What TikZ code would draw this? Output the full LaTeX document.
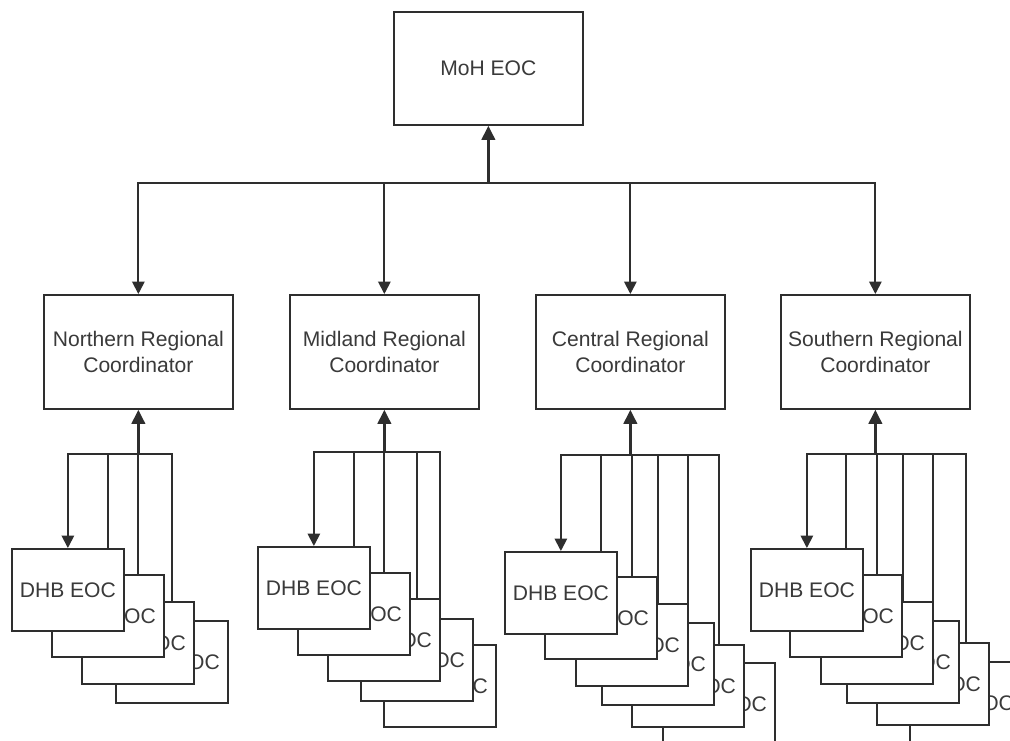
\documentclass[tikz,border=0pt]{standalone}
\usepackage{fontspec}
\setmainfont{Liberation Sans}
\usetikzlibrary{arrows.meta, positioning}
\definecolor{ink}{HTML}{2E2E2E}
\definecolor{txtgray}{HTML}{3A3A3A}

\begin{document}
\begin{tikzpicture}[x=0.02cm, y=-0.02cm, >={Triangle[length=7pt, width=7pt]},
  box/.style={draw=ink, line width=1pt, fill=white, text=txtgray, align=center,
    font=\fontsize{12}{14.5}\selectfont, inner sep=2pt, anchor=north west},
  bigbox/.style={box, minimum width=3.78cm, minimum height=2.28cm},
  dhb/.style={box, minimum width=2.24cm, minimum height=1.64cm},
  link/.style={draw=ink, line width=1pt, ->},
  uplink/.style={draw=ink, line width=1.8pt, -{Triangle[length=8pt, width=7.5pt]}}]

% Canvas
\useasboundingbox (0,0) rectangle (1010,740);
\clip (0,0) rectangle (1010,740);
\fill[white] (0,0) rectangle (1010,740);

% Ministry EOC
\node[bigbox, minimum height=2.26cm] (moh) at (393,11) {MoH EOC};

% Regional coordinators
\node[bigbox] (north) at (43,294) {Northern Regional\\Coordinator};
\node[bigbox] (mid) at (289,294) {Midland Regional\\Coordinator};
\node[bigbox] (cent) at (535,294) {Central Regional\\Coordinator};
\node[bigbox] (south) at (780,294) {Southern Regional\\Coordinator};

% Regions to MoH
\path (moh.south) ++(0,57) coordinate (tophub);
\draw[uplink] (tophub) -- (moh.south);
\draw[link] (tophub) -| (north.north);
\draw[link] (tophub) -| (mid.north);
\draw[link] (tophub) -| (cent.north);
\draw[link] (tophub) -| (south.north);

% Northern DHBs (back to front)
\path (north.south) ++(0,44) coordinate (nhub);
\draw[uplink] (nhub) -- (north.south);
\node[dhb] (n4) at (115,620) {DHB EOC}; \draw[link] (nhub) -| (n4.north);
\node[dhb] (n3) at (81,601) {DHB EOC}; \draw[link] (nhub) -| (n3.north);
\node[dhb] (n2) at (51,574) {DHB EOC}; \draw[link] (nhub) -| (n2.north);
\node[dhb] (n1) at (11,548) {DHB EOC}; \draw[link] (nhub) -| (n1.north);

% Midland DHBs
\path (mid.south) ++(0,42) coordinate (mhub);
\draw[uplink] (mhub) -- (mid.south);
\node[dhb] (m5) at (383,644) {DHB EOC}; \draw[link] (mhub) -| (m5.north);
\node[dhb] (m4) at (360,618) {DHB EOC}; \draw[link] (mhub) -| (m4.north);
\node[dhb] (m3) at (327,598) {DHB EOC}; \draw[link] (mhub) -| (m3.north);
\node[dhb] (m2) at (297,572) {DHB EOC}; \draw[link] (mhub) -| (m2.north);
\node[dhb] (m1) at (257,546) {DHB EOC}; \draw[link] (mhub) -| (m1.north);

% Central DHBs
\path (cent.south) ++(0,45) coordinate (chub);
\draw[uplink] (chub) -- (cent.south);
\node[dhb] (c6) at (662,662) {DHB EOC}; \draw[link] (chub) -| (c6.north);
\node[dhb] (c5) at (631,644) {DHB EOC}; \draw[link] (chub) -| (c5.north);
\node[dhb] (c4) at (601,622) {DHB EOC}; \draw[link] (chub) -| (c4.north);
\node[dhb] (c3) at (575,603) {DHB EOC}; \draw[link] (chub) -| (c3.north);
\node[dhb] (c2) at (544,576) {DHB EOC}; \draw[link] (chub) -| (c2.north);
\node[dhb] (c1) at (504,551) {DHB EOC}; \draw[link] (chub) -| (c1.north);

% Southern DHBs
\path (south.south) ++(0,44) coordinate (shub);
\draw[uplink] (shub) -- (south.south);
\node[dhb] (s6) at (909,661) {DHB EOC}; \draw[link] (shub) -| (s6.north);
\node[dhb] (s5) at (876,642) {DHB EOC}; \draw[link] (shub) -| (s5.north);
\node[dhb] (s4) at (846,620) {DHB EOC}; \draw[link] (shub) -| (s4.north);
\node[dhb] (s3) at (820,601) {DHB EOC}; \draw[link] (shub) -| (s3.north);
\node[dhb] (s2) at (789,574) {DHB EOC}; \draw[link] (shub) -| (s2.north);
\node[dhb] (s1) at (750,548) {DHB EOC}; \draw[link] (shub) -| (s1.north);

\end{tikzpicture}
\end{document}
